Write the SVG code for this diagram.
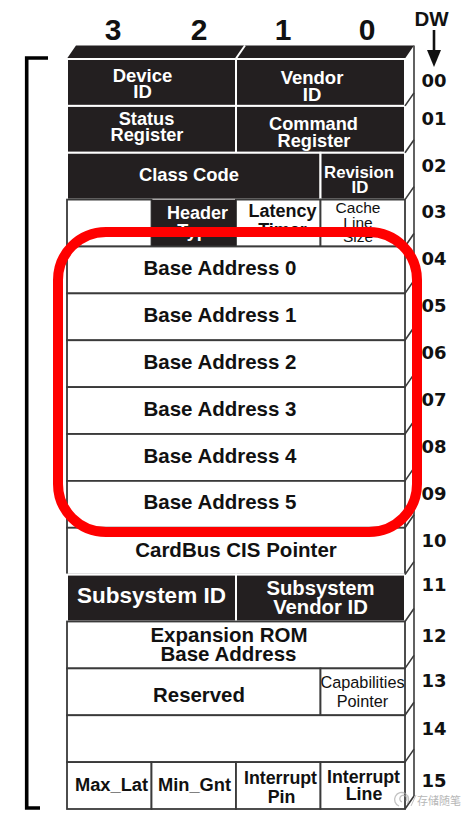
<svg xmlns="http://www.w3.org/2000/svg" width="473" height="822" viewBox="0 0 473 822">
<style>
.blk{fill:#231f20;stroke:#fff;stroke-width:2}
.wht{fill:#fff;stroke:#3a3a3a;stroke-width:1.8}
.edge{fill:none;stroke:#3a3a3a;stroke-width:1.6}
.tw{fill:#fff;font-family:"Liberation Sans",Arial,sans-serif;font-weight:bold;text-anchor:middle}
.tb{fill:#111;font-family:"Liberation Sans",Arial,sans-serif;font-weight:bold;text-anchor:middle}
.tr{fill:#111;font-family:"Liberation Sans",Arial,sans-serif;font-weight:normal;text-anchor:middle}
.num{fill:#111;font-family:"DejaVu Sans",sans-serif;font-weight:bold;font-size:18px;text-anchor:middle}
.hd{fill:#111;font-family:"Liberation Sans",Arial,sans-serif;font-weight:bold;font-size:30px;text-anchor:middle}
.ba{font-size:20.5px}
</style>
<rect width="473" height="822" fill="#fff"/>

<g id="top-face">
<polygon points="67,58.5 405,58.5 414,45.5 76,45.5" fill="#231f20"/>
<line x1="236" y1="58.5" x2="245" y2="45.5" stroke="#fff" stroke-width="2"/>
</g>

<g id="column-headers">
<text class="hd" x="113" y="40">3</text>
<text class="hd" x="199" y="40">2</text>
<text class="hd" x="283" y="40">1</text>
<text class="hd" x="367" y="40">0</text>
<text class="tb" x="431.5" y="26" font-size="20.5">DW</text>
<line x1="434" y1="30" x2="434" y2="53" stroke="#111" stroke-width="2.6"/>
<polygon points="427,50 441,50 434,67" fill="#111"/>
</g>

<g id="row00">
<rect class="blk" x="67" y="59" width="169" height="46.9"/>
<rect class="blk" x="236" y="59" width="169" height="46.9"/>
<text class="tw" font-size="18.5" x="142.5" y="81.7">Device</text>
<text class="tw" font-size="18.5" x="142.5" y="98.3">ID</text>
<text class="tw" font-size="18.5" x="312" y="84">Vendor</text>
<text class="tw" font-size="18.5" x="312" y="100.7">ID</text>
</g>
<g id="row01">
<rect class="blk" x="67" y="105.9" width="169" height="46.9"/>
<rect class="blk" x="236" y="105.9" width="169" height="46.9"/>
<text class="tw" font-size="18.2" x="146.5" y="125">Status</text>
<text class="tw" font-size="18.2" x="147" y="141">Register</text>
<text class="tw" font-size="18.2" x="313.5" y="130">Command</text>
<text class="tw" font-size="18.2" x="314" y="146.7">Register</text>
</g>
<g id="row02">
<rect class="blk" x="67" y="152.75" width="253.5" height="46.9"/>
<rect class="blk" x="320.5" y="152.75" width="84.5" height="46.9"/>
<text class="tw" font-size="18.4" x="189" y="180.7">Class Code</text>
<text class="tw" font-size="16.8" x="359" y="178.3">Revision</text>
<text class="tw" font-size="16.8" x="360" y="193.3">ID</text>
</g>
<g id="row03">
<rect class="wht" x="67" y="199.6" width="84.5" height="46.9"/>
<rect class="wht" x="236" y="199.6" width="84.5" height="46.9"/>
<rect class="wht" x="320.5" y="199.6" width="84.5" height="46.9"/>
<rect x="151.5" y="199.6" width="84.5" height="46.9" fill="#231f20"/>
<text class="tw" font-size="18" x="197.5" y="219">Header</text>
<text class="tw" font-size="18" x="197.5" y="237">Type</text>
<text class="tb" font-size="18" x="282.5" y="217">Latency</text>
<text class="tb" font-size="18" x="282.5" y="236">Timer</text>
<text class="tr" font-size="15.5" x="358" y="213">Cache</text>
<text class="tr" font-size="15.5" x="358" y="227.5">Line</text>
<text class="tr" font-size="15.5" x="358" y="242">Size</text>
</g>
<g id="row04">
<rect class="wht" x="67" y="246.5" width="338" height="46.9"/>
<text class="tb ba" x="220" y="275">Base Address 0</text>
</g>
<g id="row05">
<rect class="wht" x="67" y="293.4" width="338" height="46.9"/>
<text class="tb ba" x="220" y="321.9">Base Address 1</text>
</g>
<g id="row06">
<rect class="wht" x="67" y="340.25" width="338" height="46.9"/>
<text class="tb ba" x="220" y="368.8">Base Address 2</text>
</g>
<g id="row07">
<rect class="wht" x="67" y="387.1" width="338" height="46.9"/>
<text class="tb ba" x="220" y="415.6">Base Address 3</text>
</g>
<g id="row08">
<rect class="wht" x="67" y="434" width="338" height="46.9"/>
<text class="tb ba" x="220" y="462.5">Base Address 4</text>
</g>
<g id="row09">
<rect class="wht" x="67" y="480.9" width="338" height="46.9"/>
<text class="tb ba" x="220" y="509.4">Base Address 5</text>
</g>
<g id="row10">
<rect class="wht" x="67" y="527.75" width="338" height="46.9"/>
<text class="tb ba" x="236" y="556.5">CardBus CIS Pointer</text>
</g>
<g id="row11">
<rect class="blk" x="67" y="574.6" width="169" height="46.9"/>
<rect class="blk" x="236" y="574.6" width="169" height="46.9"/>
<text class="tw" font-size="22.5" x="151.5" y="603.3">Subsystem ID</text>
<text class="tw" font-size="20.3" x="320.5" y="595">Subsystem</text>
<text class="tw" font-size="20.3" x="320.5" y="614">Vendor ID</text>
</g>
<g id="row12">
<rect class="wht" x="67" y="621.5" width="338" height="46.9"/>
<text class="tb ba" x="229" y="641.7">Expansion ROM</text>
<text class="tb ba" x="228.5" y="660.7">Base Address</text>
</g>
<g id="row13">
<rect class="wht" x="67" y="668.4" width="253.5" height="46.9"/>
<rect class="wht" x="320.5" y="668.4" width="84.5" height="46.9"/>
<text class="tb" font-size="20.4" x="199" y="701.7">Reserved</text>
<text class="tr" font-size="16.3" x="362.5" y="688">Capabilities</text>
<text class="tr" font-size="16.3" x="362.5" y="707">Pointer</text>
</g>
<g id="row14">
<rect class="wht" x="67" y="715.25" width="338" height="46.9"/>
</g>
<g id="row15">
<rect class="wht" x="67" y="762.1" width="84.5" height="46.9"/>
<rect class="wht" x="151.5" y="762.1" width="84.5" height="46.9"/>
<rect class="wht" x="236" y="762.1" width="84.5" height="46.9"/>
<rect class="wht" x="320.5" y="762.1" width="84.5" height="46.9"/>
<text class="tb" font-size="18.3" x="111.5" y="790.7">Max_Lat</text>
<text class="tb" font-size="18.3" x="194.5" y="790.7">Min_Gnt</text>
<text class="tb" font-size="17.8" x="280.5" y="784">Interrupt</text>
<text class="tb" font-size="17.8" x="281.5" y="802.7">Pin</text>
<text class="tb" font-size="17.8" x="363.5" y="782.7">Interrupt</text>
<text class="tb" font-size="17.8" x="364" y="800">Line</text>
</g>

<g id="connectors">
<g id="side-face" class="edge">
<line x1="414" y1="45.5" x2="414" y2="796"/>
<path d="M405,105.9 l9,-13 M405,152.75 l9,-13 M405,199.6 l9,-13 M405,246.5 l9,-13 M405,293.4 l9,-13 M405,340.25 l9,-13 M405,387.1 l9,-13 M405,434 l9,-13 M405,480.9 l9,-13 M405,527.75 l9,-13 M405,574.6 l9,-13 M405,621.5 l9,-13 M405,668.4 l9,-13 M405,715.25 l9,-13 M405,762.1 l9,-13 M405,809 l9,-13"/>
</g>
<path id="bracket" d="M48,58 H26.7 V808 H40" fill="none" stroke="#000" stroke-width="3.6"/>
<rect id="highlight" x="58" y="232" width="359" height="300" rx="48" ry="48" fill="none" stroke="#ff0000" stroke-width="10"/>
</g>

<g id="row-numbers">
<text class="num" x="434" y="87">00</text>
<text class="num" x="434" y="125">01</text>
<text class="num" x="434" y="172">02</text>
<text class="num" x="434" y="218">03</text>
<text class="num" x="434" y="265">04</text>
<text class="num" x="434" y="312">05</text>
<text class="num" x="434" y="359">06</text>
<text class="num" x="434" y="406">07</text>
<text class="num" x="434" y="453">08</text>
<text class="num" x="434" y="500">09</text>
<text class="num" x="434" y="547">10</text>
<text class="num" x="434" y="591">11</text>
<text class="num" x="434" y="642">12</text>
<text class="num" x="434" y="687">13</text>
<text class="num" x="434" y="735">14</text>
<text class="num" x="434" y="787">15</text>
</g>

<g id="watermark" opacity="0.7">
<path d="M399,806 a7,7 0 1 1 8,-2 M402,802 a3.5,3.5 0 1 1 4,-1" fill="none" stroke="#aaa" stroke-width="1.3"/>
<line x1="411" y1="806" x2="416" y2="795" stroke="#aaa" stroke-width="1"/>
<text x="417" y="805" font-size="11" fill="#999" font-family="'Noto Sans CJK SC',sans-serif">存储随笔</text>
</g>
</svg>
